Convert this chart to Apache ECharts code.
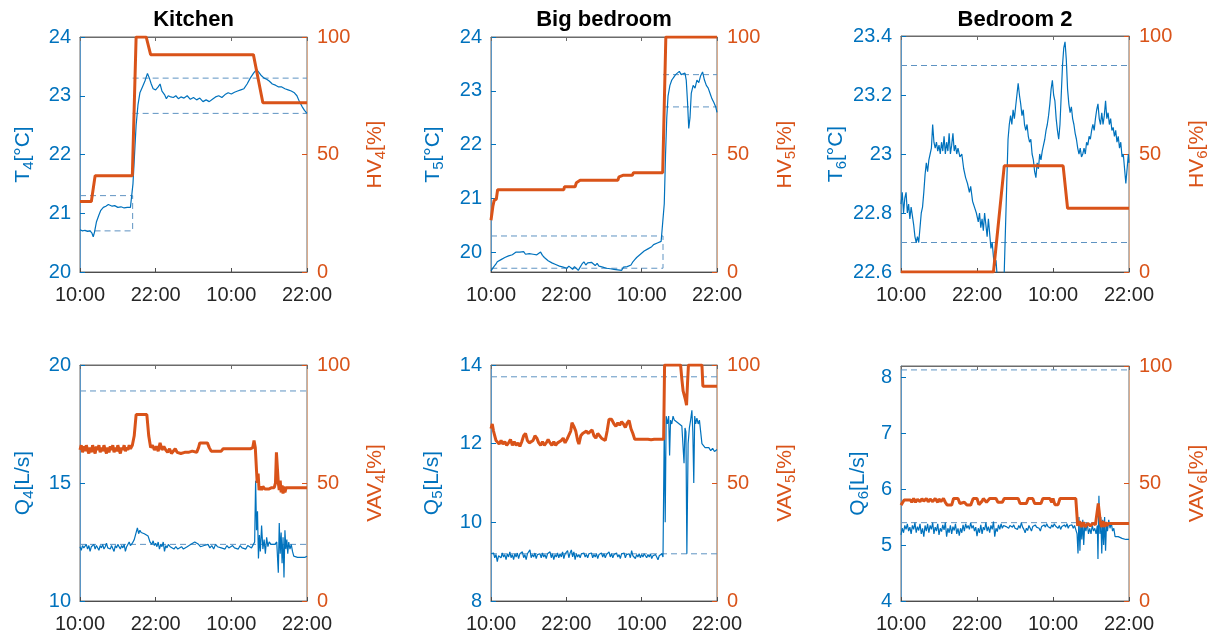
<!DOCTYPE html>
<html><head><meta charset="utf-8">
<script src="https://cdn.jsdelivr.net/npm/echarts@6/dist/echarts.min.js"></script>
<style>html,body{margin:0;padding:0;background:#fff}#c{width:1225px;height:635px}</style>
</head><body><div id="c"></div>
<script>
// ---------- tick labels ----------
const xTickHours = [0, 12, 24, 36];
const xTickLabels = ['10:00', '22:00', '10:00', '22:00'];
const titles = ['Kitchen', 'Big bedroom', 'Bedroom 2'];

// ---------- Kitchen: temperature T4 [°C] and HV4 [%] ----------
const kitchenT = [[0,20.72],[0.4,20.70],[0.8,20.71],[1.2,20.69],[1.6,20.70],[1.9,20.66],[2.1,20.6],[2.3,20.68],[2.6,20.85],[3.0,20.97],[3.3,21.05],[3.7,21.1],[4.1,21.12],[4.5,21.15],[4.8,21.18],[5.1,21.12],[5.5,21.13],[6.0,21.1],[6.5,21.11],[7.0,21.09],[7.5,21.1],[8.0,21.1],[8.3,21.12],[8.4,21.5],[8.6,21.9],[8.9,22.5],[9.2,22.85],[9.5,23.05],[9.9,23.15],[10.3,23.25],[10.7,23.38],[11.0,23.3],[11.3,23.2],[11.6,23.12],[12.0,23.1],[12.4,23.15],[12.7,23.2],[13.0,23.08],[13.4,23.02],[13.7,22.95],[14.0,23.0],[14.4,22.98],[14.8,22.97],[15.2,23.0],[15.6,22.95],[16.0,22.98],[16.5,22.96],[17.0,23.0],[17.5,22.94],[18.0,22.97],[18.5,22.93],[19.0,22.96],[19.5,22.9],[20.0,22.93],[20.5,22.9],[21.0,22.94],[21.5,22.98],[22.0,23.0],[22.5,22.97],[23.0,23.02],[23.5,23.05],[24.0,23.03],[24.5,23.06],[25.0,23.08],[25.5,23.1],[26.0,23.12],[26.5,23.2],[27.0,23.3],[27.5,23.38],[28.0,23.45],[28.3,23.42],[28.7,23.35],[29.2,23.3],[29.6,23.28],[30.0,23.25],[30.5,23.2],[31.0,23.18],[31.5,23.15],[32.0,23.15],[32.5,23.12],[33.0,23.1],[33.5,23.08],[34.0,23.05],[34.4,23.0],[34.8,22.9],[35.2,22.82],[35.6,22.75],[36.0,22.7]];
const kitchenHV = [[0,30],[1.8,30],[2.4,41],[8.3,41],[8.9,100],[10.5,100],[11.2,92.5],[27.5,92.5],[29.0,72],[36,72]];
const kitchenTLimits = [[[0,21.3],[8.35,21.3],[8.35,20.7],[0,20.7]], [[8.35,23.3],[36,23.3]], [[8.35,22.7],[36,22.7]]];

// ---------- Big bedroom: T5 [°C] and HV5 [%] ----------
const bigT = [[0,19.65],[0.2,19.68],[0.4,19.72],[0.6,19.7],[0.8,19.78],[1.0,19.82],[1.3,19.8],[1.6,19.86],[1.9,19.84],[2.2,19.9],[2.5,19.88],[2.8,19.93],[3.1,19.9],[3.4,19.95],[3.7,19.97],[4.0,20.0],[4.3,19.97],[4.6,20.0],[4.9,19.98],[5.2,20.01],[5.5,19.96],[5.8,19.99],[6.1,19.97],[6.4,20.0],[6.7,19.96],[7.0,19.99],[7.3,19.95],[7.6,19.98],[7.9,20.0],[8.2,19.94],[8.5,19.9],[8.8,19.88],[9.1,19.84],[9.4,19.86],[9.7,19.8],[10.0,19.82],[10.3,19.77],[10.6,19.79],[10.9,19.74],[11.2,19.77],[11.5,19.72],[11.8,19.75],[12.1,19.7],[12.4,19.74],[12.7,19.72],[13.0,19.68],[13.3,19.73],[13.6,19.7],[13.9,19.66],[14.2,19.72],[14.5,19.78],[14.8,19.82],[15.1,19.76],[15.4,19.8],[15.7,19.77],[16.0,19.81],[16.3,19.78],[16.6,19.75],[16.9,19.79],[17.2,19.74],[17.5,19.77],[17.8,19.72],[18.1,19.75],[18.4,19.7],[18.7,19.73],[19.0,19.69],[19.3,19.72],[19.6,19.68],[19.9,19.71],[20.2,19.67],[20.5,19.7],[20.8,19.66],[21.1,19.72],[21.4,19.69],[21.7,19.73],[22.0,19.7],[22.3,19.76],[22.6,19.82],[22.9,19.86],[23.2,19.9],[23.5,19.93],[23.8,19.96],[24.1,19.98],[24.4,20.02],[24.7,20.04],[25.0,20.06],[25.3,20.08],[25.6,20.1],[25.9,20.14],[26.2,20.15],[26.5,20.17],[26.8,20.16],[27.1,20.2],[27.35,20.22],[27.6,20.9],[27.8,21.8],[28.0,22.5],[28.2,22.9],[28.5,23.1],[28.8,23.2],[29.1,23.25],[29.4,23.3],[29.7,23.32],[30.0,23.36],[30.3,23.3],[30.6,23.28],[30.9,23.33],[31.1,23.2],[31.3,22.8],[31.5,22.3],[31.7,22.5],[31.9,22.95],[32.2,23.1],[32.5,23.05],[32.8,23.2],[33.1,23.15],[33.4,23.28],[33.7,23.35],[34.0,23.2],[34.3,23.1],[34.6,23.05],[34.9,22.95],[35.2,22.85],[35.5,22.78],[35.8,22.7],[36.0,22.6]];
const bigHV = [[0,22],[0.3,28],[0.5,30.5],[0.85,31],[1.05,35],[11.6,35],[11.7,36.3],[13.4,36.3],[13.6,38],[14.2,39],[20.2,39],[20.4,40.5],[21.1,41.2],[22.5,41.2],[22.7,42.2],[27.35,42.2],[27.85,100],[36,100]];
const bigTLimits = [[[0,20.3],[27.4,20.3],[27.4,19.7],[0,19.7]], [[27.4,23.3],[36,23.3]], [[27.4,22.7],[36,22.7]]];

// ---------- Bedroom 2: T6 [°C] and HV6 [%] ----------
const bed2T = [[0,22.83],[0.2,22.87],[0.4,22.80],[0.6,22.85],[0.8,22.87],[1.0,22.80],[1.2,22.83],[1.4,22.78],[1.6,22.82],[1.8,22.79],[2.0,22.76],[2.2,22.72],[2.4,22.70],[2.6,22.72],[2.8,22.70],[3.0,22.75],[3.2,22.80],[3.4,22.82],[3.6,22.87],[3.8,22.93],[4.0,22.97],[4.2,22.94],[4.4,22.98],[4.6,23.0],[4.8,23.02],[5.0,23.1],[5.2,23.04],[5.4,23.02],[5.6,23.04],[5.8,23.01],[6.0,23.03],[6.2,23.0],[6.4,23.04],[6.6,23.01],[6.8,23.06],[7.0,23.0],[7.2,23.04],[7.4,23.01],[7.6,23.07],[7.8,23.0],[8.0,23.03],[8.2,23.07],[8.4,23.01],[8.6,23.03],[8.8,23.0],[9.0,23.02],[9.3,22.99],[9.6,23.0],[9.9,22.95],[10.2,22.92],[10.5,22.9],[10.8,22.87],[11.0,22.89],[11.3,22.84],[11.6,22.82],[11.9,22.8],[12.2,22.77],[12.4,22.8],[12.6,22.75],[12.8,22.78],[13.0,22.74],[13.2,22.8],[13.4,22.76],[13.6,22.72],[13.8,22.78],[14.0,22.73],[14.2,22.68],[14.4,22.7],[14.6,22.65],[14.8,22.62],[15.0,22.64],[15.2,22.58],[15.4,22.5],[15.7,22.45],[16.0,22.48],[16.3,22.6],[16.5,22.75],[16.7,22.9],[16.9,23.05],[17.1,23.1],[17.3,23.13],[17.5,23.1],[17.7,23.15],[17.9,23.12],[18.1,23.16],[18.3,23.2],[18.5,23.24],[18.7,23.2],[18.9,23.17],[19.1,23.13],[19.3,23.15],[19.5,23.1],[19.7,23.08],[19.9,23.1],[20.1,23.06],[20.3,23.04],[20.5,23.05],[20.7,23.0],[20.9,22.98],[21.1,22.94],[21.3,22.92],[21.5,22.97],[21.7,22.95],[21.9,23.0],[22.1,22.98],[22.3,23.01],[22.5,23.03],[22.7,23.05],[22.9,23.08],[23.1,23.1],[23.3,23.13],[23.5,23.17],[23.7,23.22],[23.9,23.25],[24.1,23.2],[24.3,23.18],[24.5,23.12],[24.7,23.08],[24.9,23.05],[25.1,23.1],[25.3,23.2],[25.5,23.3],[25.7,23.36],[25.9,23.38],[26.1,23.32],[26.3,23.22],[26.5,23.17],[26.7,23.14],[26.9,23.16],[27.1,23.12],[27.3,23.1],[27.5,23.07],[27.7,23.05],[27.9,23.02],[28.1,23.0],[28.3,23.02],[28.5,22.99],[28.7,23.0],[28.9,23.02],[29.1,23.0],[29.3,23.04],[29.5,23.03],[29.7,23.06],[29.9,23.05],[30.1,23.08],[30.3,23.1],[30.5,23.08],[30.7,23.12],[30.9,23.15],[31.1,23.17],[31.3,23.12],[31.5,23.1],[31.7,23.14],[31.9,23.1],[32.1,23.13],[32.3,23.18],[32.5,23.12],[32.7,23.14],[32.9,23.1],[33.1,23.12],[33.3,23.08],[33.5,23.09],[33.7,23.06],[33.9,23.08],[34.1,23.04],[34.3,23.06],[34.5,23.02],[34.7,23.04],[34.9,22.99],[35.1,23.0],[35.3,22.95],[35.5,22.9],[35.7,22.95],[35.9,23.0],[36.0,22.97]];
const bed2HV = [[0,0],[14.6,0],[16.3,45],[25.6,45],[26.3,27],[36,27]];
const bed2TLimits = [[[0,23.3],[36,23.3]], [[0,22.7],[36,22.7]]];

// ---------- Kitchen: airflow Q4 [L/s] and VAV4 [%] ----------
const kitchenQ = [[0,12.3],[0.2,12.15],[0.4,12.35],[0.6,12.25],[0.8,12.3],[1.0,12.4],[1.2,12.2],[1.4,12.35],[1.6,12.1],[1.8,12.3],[2.0,12.25],[2.2,12.4],[2.4,12.2],[2.6,12.35],[2.8,12.3],[3.0,12.15],[3.2,12.35],[3.4,12.25],[3.6,12.4],[3.8,12.2],[4.0,12.3],[4.2,12.45],[4.4,12.25],[4.6,12.3],[4.8,12.2],[5.0,12.35],[5.2,12.3],[5.4,12.1],[5.6,12.35],[5.8,12.25],[6.0,12.4],[6.2,12.3],[6.4,12.2],[6.6,12.35],[6.8,12.25],[7.0,12.4],[7.2,12.1],[7.4,12.3],[7.6,12.35],[7.8,12.5],[8.0,12.35],[8.3,12.45],[8.6,12.6],[8.9,12.9],[9.1,13.1],[9.3,12.85],[9.5,13.0],[9.7,12.9],[9.9,12.95],[10.2,12.85],[10.5,12.9],[10.8,12.75],[11.1,12.5],[11.4,12.4],[11.6,12.55],[11.8,12.35],[12.0,12.45],[12.2,12.3],[12.4,12.5],[12.6,12.2],[12.8,12.4],[13.0,12.3],[13.2,12.5],[13.4,12.1],[13.6,12.35],[13.8,12.25],[14.0,12.4],[14.3,12.3],[14.6,12.25],[14.9,12.2],[15.2,12.3],[15.5,12.2],[15.8,12.25],[16.1,12.3],[16.4,12.2],[16.7,12.25],[17.0,12.3],[17.3,12.25],[17.6,12.4],[17.9,12.45],[18.2,12.5],[18.5,12.48],[18.8,12.4],[19.1,12.3],[19.4,12.25],[19.7,12.35],[20.0,12.3],[20.3,12.4],[20.6,12.25],[20.9,12.35],[21.2,12.2],[21.5,12.4],[21.8,12.3],[22.1,12.35],[22.4,12.25],[22.7,12.3],[23.0,12.2],[23.3,12.35],[23.6,12.25],[23.9,12.3],[24.2,12.35],[24.5,12.25],[24.8,12.3],[25.1,12.2],[25.4,12.35],[25.7,12.25],[26.0,12.3],[26.3,12.2],[26.6,12.35],[26.9,12.3],[27.2,12.25],[27.5,12.4],[27.7,12.5],[27.85,15.1],[28.0,13.0],[28.15,13.8],[28.3,11.8],[28.45,12.8],[28.6,12.1],[28.8,13.2],[29.0,12.2],[29.2,12.6],[29.4,12.0],[29.6,12.7],[29.8,12.3],[30.0,12.5],[30.3,12.4],[30.6,12.45],[30.9,12.4],[31.2,12.5],[31.45,11.2],[31.6,13.3],[31.75,12.0],[31.9,12.9],[32.05,11.6],[32.2,12.7],[32.35,11.0],[32.5,13.0],[32.65,12.2],[32.8,12.6],[32.95,12.0],[33.1,12.5],[33.3,12.2],[33.5,12.4],[33.7,12.1],[33.9,11.9],[34.2,11.95],[34.5,11.85],[34.8,11.9],[35.1,11.85],[35.4,11.9],[35.7,11.85],[36.0,11.9]];
const kitchenVAV = [[0,64],[0.2,66],[0.4,63],[0.6,65.5],[0.8,63.5],[1.0,66],[1.2,64],[1.4,62.5],[1.6,65],[1.8,63],[2.0,66],[2.2,64],[2.4,62.5],[2.6,65.5],[2.8,64],[3.0,66],[3.2,63],[3.4,65],[3.6,63.5],[3.8,66],[4.0,64],[4.2,62.5],[4.4,65],[4.6,63],[4.8,65.5],[5.0,64],[5.2,66],[5.4,63],[5.6,65],[5.8,63.5],[6.0,66],[6.2,64],[6.4,62.5],[6.6,65],[6.8,64],[7.0,66],[7.2,63.5],[7.4,65],[7.6,64],[7.8,66],[8.0,64.5],[8.3,66],[8.6,70],[8.9,79],[10.6,79],[10.9,70],[11.2,65],[11.5,66],[11.8,64],[12.1,65.5],[12.4,63.5],[12.7,67],[13.0,64],[13.3,65.5],[13.6,64],[13.9,63],[14.2,64.5],[14.5,62.5],[14.8,63],[15.1,64.5],[15.4,63],[15.7,63],[16.0,62.5],[16.3,63],[16.6,63],[16.9,62.5],[17.2,63],[17.5,63],[17.8,63.5],[18.1,63],[18.5,63],[18.8,65],[19.0,67],[19.6,67],[20.2,67],[20.5,65],[20.8,63.5],[21.2,63.5],[21.6,63.5],[22.0,63.5],[22.4,63.5],[22.7,64.5],[23.0,65],[23.5,64.5],[24.0,64.5],[24.5,64.5],[25.0,64.5],[25.5,64.5],[26.0,64.5],[26.5,64.5],[27.0,64.5],[27.4,65],[27.6,68],[27.8,65],[28.0,55],[28.1,50],[28.25,54],[28.4,47],[28.6,48.5],[28.8,47],[29.0,48.5],[29.3,47.5],[29.6,48],[30.0,47.5],[30.4,48],[30.8,48],[31.0,50],[31.15,63],[31.3,63],[31.45,50],[31.6,47],[31.75,51],[31.9,46],[32.05,49],[32.2,45.5],[32.35,48.5],[32.5,46],[32.7,48],[33.0,47.5],[33.3,48],[33.6,48],[34.0,48],[35.0,48],[36,48]];
const kitchenQLimits = [[[0,18.9],[36,18.9]], [[0,12.4],[36,12.4]]];

// ---------- Big bedroom: Q5 [L/s] and VAV5 [%] ----------
const bigQ = [[0,9.2],[0.2,9.15],[0.4,9.22],[0.6,9.1],[0.8,9.18],[1.0,9.0],[1.2,9.15],[1.4,9.2],[1.6,9.1],[1.8,9.22],[2.0,9.12],[2.2,9.18],[2.4,9.05],[2.6,9.2],[2.8,9.12],[3.0,9.25],[3.2,9.1],[3.4,9.18],[3.6,9.05],[3.8,9.2],[4.0,9.12],[4.2,9.22],[4.4,9.08],[4.6,9.2],[4.8,9.15],[5.0,9.25],[5.2,9.1],[5.4,9.18],[5.6,9.05],[5.8,9.2],[6.0,9.15],[6.2,9.3],[6.4,9.1],[6.6,9.18],[6.8,9.12],[7.0,9.22],[7.2,9.08],[7.4,9.18],[7.6,9.15],[7.8,9.2],[8.0,9.1],[8.2,9.22],[8.4,9.12],[8.6,9.18],[8.8,9.08],[9.0,9.2],[9.2,9.15],[9.4,9.25],[9.6,9.1],[9.8,9.2],[10.0,9.05],[10.2,9.18],[10.4,9.12],[10.6,9.22],[10.8,9.1],[11.0,9.2],[11.2,9.12],[11.4,9.25],[11.6,9.08],[11.8,9.2],[12.0,9.15],[12.2,9.28],[12.4,9.1],[12.6,9.22],[12.8,9.3],[13.0,9.12],[13.2,9.25],[13.4,9.05],[13.6,9.2],[13.8,9.12],[14.0,9.18],[14.2,9.1],[14.4,9.2],[14.6,9.15],[14.8,9.22],[15.0,9.12],[15.2,9.18],[15.4,9.1],[15.6,9.2],[15.8,9.15],[16.0,9.22],[16.2,9.1],[16.4,9.18],[16.6,9.12],[16.8,9.2],[17.0,9.08],[17.2,9.18],[17.4,9.15],[17.6,9.22],[17.8,9.12],[18.0,9.2],[18.2,9.1],[18.4,9.18],[18.6,9.15],[18.8,9.25],[19.0,9.12],[19.2,9.2],[19.4,9.1],[19.6,9.18],[19.8,9.15],[20.0,9.22],[20.2,9.12],[20.4,9.18],[20.6,9.08],[20.8,9.2],[21.0,9.15],[21.2,9.22],[21.4,9.1],[21.6,9.18],[21.8,9.15],[22.0,9.2],[22.2,9.1],[22.4,9.28],[22.6,9.15],[22.8,9.2],[23.0,9.08],[23.2,9.18],[23.4,9.12],[23.6,9.2],[23.8,9.1],[24.0,9.18],[24.2,9.12],[24.4,9.2],[24.6,9.15],[24.8,9.1],[25.0,9.18],[25.2,9.12],[25.4,9.2],[25.6,9.08],[25.8,9.15],[26.0,9.1],[26.2,9.18],[26.4,9.12],[26.6,9.05],[26.8,9.15],[27.0,9.1],[27.2,9.2],[27.4,9.12],[27.6,12.4],[27.75,10.0],[27.9,12.7],[28.1,12.5],[28.3,12.7],[28.45,11.7],[28.6,12.6],[28.8,12.5],[29.0,12.7],[29.2,12.6],[29.4,12.65],[29.6,12.55],[29.8,12.6],[30.0,12.5],[30.2,12.55],[30.4,12.45],[30.6,12.5],[30.75,11.5],[30.9,12.4],[31.05,12.3],[31.2,9.2],[31.4,12.0],[31.6,12.4],[31.8,12.6],[32.0,12.85],[32.15,12.3],[32.3,11.0],[32.45,12.7],[32.6,12.5],[32.8,12.65],[33.0,12.5],[33.2,12.6],[33.4,12.3],[33.6,12.0],[33.8,11.95],[34.1,11.9],[34.4,11.85],[34.7,11.9],[35.0,11.82],[35.3,11.88],[35.6,11.8],[36.0,11.85]];
const bigVAV = [[0,73],[0.2,75],[0.4,72],[0.6,70],[0.8,68],[1.0,67.5],[1.3,66.5],[1.6,68],[1.9,66.5],[2.2,67.5],[2.5,66],[2.8,67],[3.1,68.5],[3.4,66],[3.7,67.5],[4.0,66],[4.3,67],[4.6,65.5],[4.9,67.5],[5.2,70],[5.5,71],[5.8,68],[6.1,67],[6.4,66.5],[6.7,68],[7.0,70],[7.3,69],[7.6,67],[7.9,66],[8.2,67.5],[8.5,66],[8.8,67],[9.1,68.5],[9.4,67],[9.7,66],[10.0,67.5],[10.3,66],[10.6,67],[10.9,66.5],[11.2,68],[11.5,69],[11.8,67],[12.1,68.5],[12.4,69],[12.7,72],[12.9,75.5],[13.2,74],[13.5,72],[13.8,68],[14.0,66.5],[14.3,70],[14.6,71],[14.9,70.5],[15.2,72],[15.5,71],[15.8,70.5],[16.1,72.5],[16.4,70],[16.7,69],[17.0,71],[17.3,70],[17.6,69],[17.9,68.5],[18.2,68],[18.5,72],[18.8,77],[19.2,77],[19.6,75],[19.9,74],[20.2,75.5],[20.5,74.5],[20.8,76],[21.1,75],[21.4,73.5],[21.7,75.5],[22.0,76.5],[22.3,73],[22.6,71],[22.9,68.5],[23.2,68],[23.5,68.5],[24.0,68.5],[24.5,68.5],[25.0,68.5],[25.5,68.3],[26.0,68.5],[26.5,68.5],[27.0,68.5],[27.5,68.5],[27.65,100],[30.2,100],[30.4,94],[30.6,89],[30.8,87],[31.0,85],[31.15,83],[31.3,92],[31.45,100],[33.6,100],[33.75,91],[36,91]];
const bigQLimits = [[[0,13.7],[36,13.7]], [[0,9.2],[36,9.2]]];

// ---------- Bedroom 2: Q6 [L/s] and VAV6 [%] ----------
const bed2Q = [[0,5.18],[0.2,5.3],[0.4,5.22],[0.6,5.35],[0.8,5.28],[1.0,5.38],[1.2,5.25],[1.4,5.32],[1.6,5.2],[1.8,5.35],[2.0,5.28],[2.2,5.4],[2.4,5.22],[2.6,5.33],[2.8,5.26],[3.0,5.38],[3.2,5.2],[3.4,5.3],[3.6,5.15],[3.8,5.35],[4.0,5.25],[4.2,5.38],[4.4,5.22],[4.6,5.35],[4.8,5.28],[5.0,5.4],[5.2,5.2],[5.4,5.32],[5.6,5.25],[5.8,5.38],[6.0,5.18],[6.2,5.3],[6.4,5.24],[6.6,5.36],[6.8,5.27],[7.0,5.4],[7.2,5.15],[7.4,5.3],[7.6,5.22],[7.8,5.35],[8.0,5.2],[8.2,5.33],[8.4,5.26],[8.6,5.38],[8.8,5.2],[9.0,5.3],[9.2,5.17],[9.4,5.3],[9.6,5.22],[9.8,5.36],[10.0,5.25],[10.2,5.38],[10.4,5.3],[10.6,5.35],[10.8,5.28],[11.0,5.4],[11.2,5.3],[11.4,5.35],[11.6,5.25],[11.8,5.32],[12.0,5.16],[12.2,5.3],[12.4,5.22],[12.6,5.36],[12.8,5.2],[13.0,5.32],[13.2,5.27],[13.4,5.4],[13.6,5.25],[13.8,5.33],[14.0,5.22],[14.2,5.35],[14.4,5.28],[14.6,5.42],[14.8,5.15],[15.0,5.3],[15.2,5.24],[15.4,5.36],[15.6,5.28],[15.8,5.38],[16.0,5.3],[16.2,5.35],[16.4,5.37],[16.6,5.33],[16.8,5.36],[17.0,5.3],[17.2,5.35],[17.4,5.38],[17.6,5.32],[17.8,5.36],[18.0,5.3],[18.2,5.33],[18.4,5.28],[18.6,5.35],[18.8,5.3],[19.0,5.4],[19.2,5.32],[19.4,5.28],[19.6,5.22],[19.8,5.3],[20.0,5.26],[20.2,5.35],[20.4,5.3],[20.6,5.25],[20.8,5.33],[21.0,5.3],[21.2,5.36],[21.4,5.32],[21.6,5.35],[21.8,5.3],[22.0,5.25],[22.2,5.33],[22.4,5.3],[22.6,5.36],[22.8,5.32],[23.0,5.38],[23.2,5.33],[23.4,5.35],[23.6,5.3],[23.8,5.36],[24.0,5.32],[24.2,5.38],[24.4,5.34],[24.6,5.36],[24.8,5.3],[25.0,5.35],[25.2,5.28],[25.4,5.33],[25.6,5.3],[25.8,5.36],[26.0,5.32],[26.2,5.38],[26.4,5.3],[26.6,5.35],[26.8,5.32],[27.0,5.36],[27.2,5.3],[27.4,5.35],[27.6,5.38],[27.8,5.2],[27.95,4.85],[28.1,5.5],[28.25,4.9],[28.4,5.4],[28.55,5.1],[28.7,5.45],[28.85,5.0],[29.0,5.35],[29.2,5.25],[29.4,5.4],[29.6,5.2],[29.8,5.3],[30.0,5.2],[30.2,5.35],[30.4,5.25],[30.6,5.3],[30.8,5.2],[31.0,5.35],[31.1,4.75],[31.25,5.88],[31.4,5.2],[31.55,5.5],[31.7,4.85],[31.85,5.45],[32.0,5.0],[32.15,5.5],[32.3,4.9],[32.45,5.4],[32.6,5.25],[32.8,5.45],[33.0,5.3],[33.2,5.4],[33.4,5.25],[33.6,5.3],[33.8,5.15],[34.0,5.18],[34.3,5.15],[34.6,5.14],[34.9,5.12],[35.2,5.13],[35.5,5.1],[35.8,5.12],[36.0,5.1]];
const bed2VAV = [[0,40.8],[0.3,40.8],[0.5,43],[1.5,43],[1.7,42],[2.0,43.6],[2.3,42],[2.6,43.3],[3.0,42.3],[3.3,43.5],[3.6,42.5],[4.0,43.6],[4.3,42.2],[4.6,43.4],[5.0,42.3],[5.4,43.6],[5.8,42],[6.0,43.4],[6.3,42.3],[6.7,43.6],[7.0,42],[7.3,40.8],[8.0,40.8],[8.3,43.6],[9.0,43.6],[9.3,41.5],[10.0,42],[10.4,40.8],[11.0,40.8],[11.4,43.6],[12.0,43.6],[12.3,41],[12.8,42.5],[13.0,43.6],[13.5,42],[14.0,43.6],[15.0,43.6],[15.3,42],[16.0,42],[16.3,43.6],[18.5,43.6],[18.8,41.5],[19.8,41.5],[20.1,43.6],[20.8,43.6],[21.1,41.5],[22.1,41.5],[22.4,43.6],[23.5,43.6],[23.8,42],[24.0,43.6],[24.3,41],[24.8,41],[25.1,43.6],[27.6,43.6],[27.9,32],[28.2,34],[28.5,31.5],[28.8,33.5],[29.1,31.5],[29.5,33],[29.9,32],[30.3,33],[30.7,32.5],[31.0,33],[31.15,41.5],[31.35,41.5],[31.5,33],[31.7,31.5],[31.9,34],[32.1,31.5],[32.3,33.5],[32.5,32],[32.7,33],[33.0,33],[36,33]];
const bed2QLimits = [[[0,8.13],[36,8.13]], [[0,5.4],[36,5.4]]];

// ---------- styling / layout ----------
const BLUE = '#0072BD', ORANGE = '#D95319', DASH = '#5f93c2';
const FONT = '"Liberation Sans", Arial, Helvetica, sans-serif';

const panels = [
  {box:[80,37,227,235], title:titles[0], yl:{min:20,max:24,interval:1}, lName:['T','4','[°C]'], rName:['HV','4','[%]'], lGap:44, rGap:55, blue:kitchenT, orange:kitchenHV, limits:kitchenTLimits},
  {box:[491,37,226,235], title:titles[1], yl:{min:19.63,max:24,custom:[20,21,22,23,24]}, lName:['T','5','[°C]'], rName:['HV','5','[%]'], lGap:45, rGap:55, blue:bigT, orange:bigHV, limits:bigTLimits},
  {box:[901,36,228,236], title:titles[2], yl:{min:22.6,max:23.4,interval:0.2}, lName:['T','6','[°C]'], rName:['HV','6','[%]'], lGap:49, rGap:55, blue:bed2T, orange:bed2HV, limits:bed2TLimits},
  {box:[80,365,227,236], yl:{min:10,max:20,interval:5}, lName:['Q','4','[L/s]'], rName:['VAV','4','[%]'], lGap:44, rGap:55, blue:kitchenQ, orange:kitchenVAV, limits:kitchenQLimits},
  {box:[491,365,226,236], yl:{min:8,max:14,interval:2}, lName:['Q','5','[L/s]'], rName:['VAV','5','[%]'], lGap:46, rGap:55, blue:bigQ, orange:bigVAV, limits:bigQLimits},
  {box:[901,366,228,235], yl:{min:4,max:8.2,custom:[4,5,6,7,8]}, lName:['Q','6','[L/s]'], rName:['VAV','6','[%]'], lGap:30, rGap:55, blue:bed2Q, orange:bed2VAV, limits:bed2QLimits}
];

function richName(parts){ return '{m|' + parts[0] + '}{s|' + parts[1] + '}{m|' + parts[2] + '}'; }
function nameStyle(color){
  return {rich:{
    m:{fontSize:21, fontFamily:FONT, color:color, lineHeight:26, verticalAlign:'middle'},
    s:{fontSize:15, fontFamily:FONT, color:color, lineHeight:15, verticalAlign:'bottom'}
  }};
}
function fmtY(v){ return String(Number(Number(v).toFixed(2))); }

const option = {animation:false, backgroundColor:'#fff', grid:[], xAxis:[], yAxis:[], series:[], graphic:[]};

panels.forEach((p, i) => {
  option.grid.push({left:p.box[0], top:p.box[1], width:p.box[2], height:p.box[3], show:true, borderColor:'#6b6b6b', borderWidth:1, containLabel:false});
  const xBase = {type:'value', gridIndex:i, min:0, max:36, interval:12, splitLine:{show:false}};
  option.xAxis.push(Object.assign({}, xBase, {
    position:'bottom',
    axisLine:{show:true, onZero:false, lineStyle:{color:'#4d4d4d', width:1}},
    axisTick:{show:true, inside:true, length:4, lineStyle:{color:'#4d4d4d'}},
    axisLabel:{color:'#262626', fontSize:20, fontFamily:FONT, margin:13,
      formatter: v => { const k = xTickHours.indexOf(v); return k >= 0 ? xTickLabels[k] : ''; }}
  }));
  option.xAxis.push(Object.assign({}, xBase, {
    position:'top',
    axisLine:{show:true, onZero:false, lineStyle:{color:'#6b6b6b', width:1}},
    axisTick:{show:true, inside:true, length:4, lineStyle:{color:'#6b6b6b'}},
    axisLabel:{show:false}
  }));
  const yl = {type:'value', gridIndex:i, position:'left', min:p.yl.min, max:p.yl.max, splitLine:{show:false},
    axisLine:{show:true, onZero:false, lineStyle:{color:'#5a95c4', width:1}},
    axisTick:{show:true, inside:true, length:5, lineStyle:{color:BLUE}},
    axisLabel:{color:BLUE, fontSize:20, fontFamily:FONT, margin:9, formatter:fmtY},
    name:richName(p.lName), nameLocation:'middle', nameRotate:90, nameGap:p.lGap, nameTextStyle:nameStyle(BLUE)};
  if (p.yl.custom) { yl.axisLabel.customValues = p.yl.custom; yl.axisTick.customValues = p.yl.custom; }
  else { yl.interval = p.yl.interval; }
  option.yAxis.push(yl);
  option.yAxis.push({type:'value', gridIndex:i, position:'right', min:0, max:100, interval:50, splitLine:{show:false},
    axisLine:{show:true, onZero:false, lineStyle:{color:'#d9ab8c', width:1}},
    axisTick:{show:true, inside:true, length:5, lineStyle:{color:ORANGE}},
    axisLabel:{color:ORANGE, fontSize:20, fontFamily:FONT, margin:10},
    name:richName(p.rName), nameLocation:'middle', nameRotate:90, nameGap:p.rGap, nameTextStyle:nameStyle(ORANGE)});

  p.limits.forEach(seg => option.series.push({type:'line', xAxisIndex:2*i, yAxisIndex:2*i, data:seg, showSymbol:false, silent:true, z:2,
    lineStyle:{color:DASH, width:1, type:[6,4]}}));
  option.series.push({type:'line', xAxisIndex:2*i, yAxisIndex:2*i, data:p.blue, showSymbol:false, silent:true, z:3,
    lineStyle:{color:BLUE, width:1.2}});
  option.series.push({type:'line', xAxisIndex:2*i, yAxisIndex:2*i+1, data:p.orange, showSymbol:false, silent:true, z:4,
    lineStyle:{color:ORANGE, width:3}});

  if (p.title) {
    option.graphic.push({type:'text', x:p.box[0] + p.box[2]/2, y:20, silent:true,
      style:{text:p.title, font:'bold 22px ' + FONT, fill:'#000', textAlign:'center', textVerticalAlign:'middle'}});
  }
});

const chart = echarts.init(document.getElementById('c'), null, {renderer:'canvas'});
chart.setOption(option);
</script>
</body></html>
